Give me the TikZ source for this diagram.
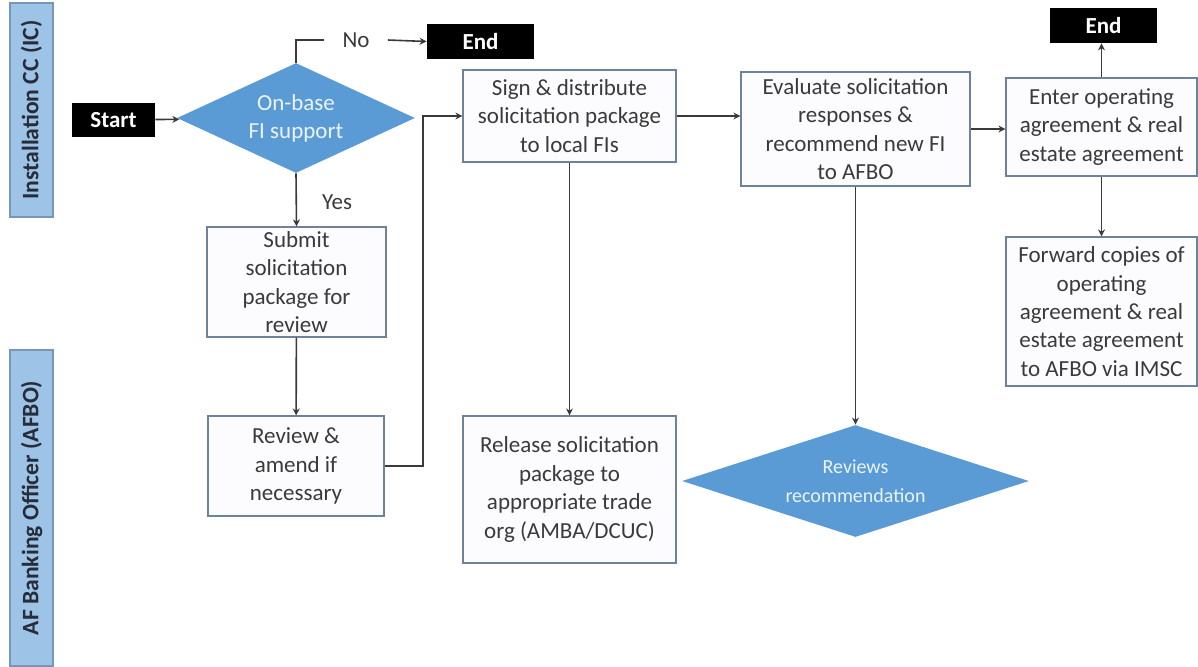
\documentclass[tikz,border=0pt]{standalone}
\usepackage{fontspec}
\setmainfont{Carlito}
\definecolor{laneblue}{RGB}{157, 195, 230}
\definecolor{laneedge}{RGB}{120, 150, 185}
\definecolor{lanetext}{RGB}{38, 44, 58}
\definecolor{decblue}{RGB}{91, 155, 213}
\definecolor{boxedge}{RGB}{110, 130, 155}
\definecolor{inkgray}{RGB}{58, 58, 58}
\usetikzlibrary{shapes.geometric, arrows.meta, positioning}

\begin{document}
\begin{tikzpicture}[x=0.5pt, y=-0.5pt,
  lane/.style={draw=laneedge, fill=laneblue, line width=0.8pt, rotate=90, minimum height=21.5pt, inner sep=0pt, font=\fontsize{11.8}{13}\selectfont\bfseries, text=lanetext},
  terminal/.style={fill=black, text=white, minimum width=53.5pt, minimum height=17.5pt, inner sep=0pt, font=\fontsize{11.5}{13}\selectfont\bfseries},
  process/.style={draw=boxedge, fill=blue!1, line width=0.6pt, align=center, inner sep=0pt, text=inkgray, font=\fontsize{11.5}{14.2}\selectfont},
  decision/.style={diamond, fill=decblue, aspect=2.2, inner sep=0pt, align=center, text=white!88!decblue, font=\fontsize{11.5}{14}\selectfont},
  flow/.style={draw=inkgray, line width=0.8pt, -{Stealth[length=3.5pt, width=3.5pt]}},
  link/.style={draw=inkgray, line width=0.8pt}]
  \useasboundingbox (0,0) rectangle (1198,666);

  % Swimlane labels
  \node[lane, minimum width=107pt] (icLane) at (31.5,110) {Installation CC (IC)};
  \node[lane, minimum width=158pt] (afboLane) at (31.5,508) {AF Banking Officer (AFBO)};

  % Start and decision
  \node[terminal, minimum width=41.5pt, minimum height=17pt] (start) at (113.5,120) {Start};
  \node[decision, minimum width=119pt, minimum height=55pt] (fiSupport) at (296,118) {On-base\\FI support};
  \node[terminal] (endNo) at (480.5,41.5) {End};
  \node[text=inkgray, inner xsep=9pt, font=\fontsize{11.5}{14}\selectfont] (noLbl) at (356,40) {No};
  \node[text=inkgray, font=\fontsize{11.5}{14}\selectfont] (yesLbl) at (337,202) {Yes};

  % Left column
  \node[process, minimum width=89.5pt, minimum height=55pt] (submit) at (296.5,282) {Submit\\solicitation\\package for\\review};
  \node[process, minimum width=88pt, minimum height=50pt] (review) at (296,466) {Review \&\\amend if\\necessary};

  % Middle columns
  \node[process, minimum width=106.5pt, minimum height=46pt] (sign) at (569.5,116) {Sign \& distribute\\solicitation package\\to local FIs};
  \node[process, minimum width=106.5pt, minimum height=73.5pt] (release) at (569.5,489.5) {Release solicitation\\package to\\appropriate trade\\org (AMBA/DCUC)};
  \node[process, minimum width=114.5pt, minimum height=57pt] (evaluate) at (855.5,129) {Evaluate solicitation\\responses \&\\recommend new FI\\to AFBO};
  \node[decision, minimum width=173.5pt, minimum height=56pt, font=\fontsize{10}{14.5}\selectfont] (reviews) at (855.5,481) {Reviews\\recommendation};

  % Right column
  \node[process, minimum width=95.5pt, minimum height=49pt] (enter) at (1101.5,127) {Enter operating\\agreement \& real\\estate agreement};
  \node[terminal] (endDone) at (1103.5,25.5) {End};
  \node[process, minimum width=95.5pt, minimum height=74.5pt] (forward) at (1101.5,311.5) {Forward copies of\\operating\\agreement \& real\\estate agreement\\to AFBO via IMSC};

  % Connectors
  \coordinate (loopUp) at (423,466);
  \draw[flow] (start) -- (fiSupport);
  \draw[link] (fiSupport.north) |- (noLbl.west);
  \draw[flow] (noLbl.east) -- (endNo.west);
  \draw[flow] (fiSupport.south) -- (submit.north);
  \draw[flow] (submit) -- (review);
  \draw[flow] (review.east) -- (loopUp) |- (sign.west);
  \draw[flow] (sign.east) -- (sign.east -| evaluate.west);
  \draw[flow] (evaluate.east) -- (evaluate.east -| enter.west);
  \draw[flow] (enter.north) -- (enter.north |- endDone.south);
  \draw[flow] (enter) -- (forward);
  \draw[flow] (sign) -- (release);
  \draw[flow] (evaluate) -- (reviews);
\end{tikzpicture}
\end{document}
